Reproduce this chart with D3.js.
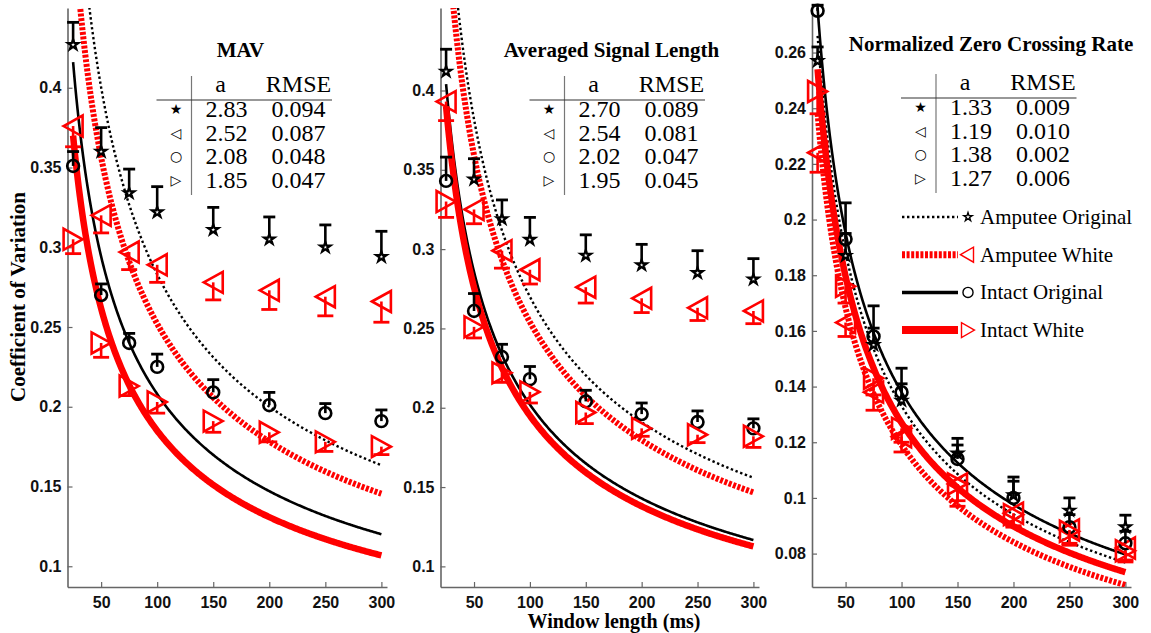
<!DOCTYPE html>
<html>
<head>
<meta charset="utf-8">
<script src="https://cdn.jsdelivr.net/npm/d3@7"></script>
<style>
body { margin: 0; background: #fff; }
</style>
</head>
<body>
<div id="chart"></div>
<script>
// ---- data ----
var windowLengths = [25, 50, 75, 100, 150, 200, 250, 300];
var xTicks = [50, 100, 150, 200, 250, 300];
var yTicksCoV = [0.1, 0.15, 0.2, 0.25, 0.3, 0.35, 0.4];
var yTicksZcr = [0.08, 0.1, 0.12, 0.14, 0.16, 0.18, 0.2, 0.22, 0.24, 0.26];
var seriesNames = ["Amputee Original", "Amputee White", "Intact Original", "Intact White"];
var panelTitles = ["MAV", "Averaged Signal Length", "Normalized Zero Crossing Rate"];

// fit parameter a and RMSE, order = seriesNames
var aMAV = [2.83, 2.52, 2.08, 1.85];
var rmseMAV = ["0.094", "0.087", "0.048", "0.047"];
var aASL = [2.70, 2.54, 2.02, 1.95];
var rmseASL = ["0.089", "0.081", "0.047", "0.045"];
var aZCR = [1.33, 1.19, 1.38, 1.27];
var rmseZCR = ["0.009", "0.010", "0.002", "0.006"];

// means and error bar ends (one list per series)
var mavMean = [
    [0.427, 0.360, 0.334, 0.322, 0.311, 0.305, 0.300, 0.294],
    [0.376, 0.320, 0.297, 0.289, 0.278, 0.273, 0.269, 0.266],
    [0.351, 0.270, 0.240, 0.225, 0.209, 0.201, 0.196, 0.191],
    [0.305, 0.240, 0.213, 0.203, 0.191, 0.184, 0.178, 0.175]];
var mavBar = [
    [0.441, 0.375, 0.349, 0.338, 0.325, 0.319, 0.314, 0.310],
    [0.363, 0.309, 0.286, 0.278, 0.267, 0.261, 0.257, 0.253],
    [0.360, 0.277, 0.246, 0.233, 0.217, 0.209, 0.202, 0.198],
    [0.296, 0.231, 0.207, 0.196, 0.184, 0.178, 0.172, 0.170]];
var aslMean = [
    [0.412, 0.344, 0.319, 0.306, 0.296, 0.290, 0.285, 0.281],
    [0.393, 0.325, 0.299, 0.287, 0.276, 0.269, 0.263, 0.261],
    [0.343, 0.261, 0.232, 0.218, 0.204, 0.196, 0.191, 0.187],
    [0.330, 0.251, 0.222, 0.210, 0.197, 0.187, 0.183, 0.182]];
var aslBar = [
    [0.426, 0.357, 0.331, 0.320, 0.309, 0.303, 0.299, 0.294],
    [0.381, 0.316, 0.288, 0.278, 0.266, 0.260, 0.255, 0.253],
    [0.358, 0.272, 0.240, 0.226, 0.211, 0.203, 0.198, 0.193],
    [0.320, 0.244, 0.216, 0.203, 0.190, 0.182, 0.178, 0.175]];
var zcrMean = [
    [0.257, 0.187, 0.155, 0.135, 0.116, 0.101, 0.0955, 0.0895],
    [0.224, 0.163, 0.138, 0.122, 0.105, 0.0945, 0.0885, 0.082],
    [0.275, 0.193, 0.158, 0.138, 0.114, 0.100, 0.0895, 0.0837],
    [0.246, 0.176, 0.143, 0.125, 0.105, 0.094, 0.088, 0.081]];
var zcrBar = [
    [0.262, 0.195, 0.161, 0.141, 0.119, 0.106, 0.100, 0.0938],
    [0.217, 0.158, 0.1315, 0.1165, 0.099, 0.0895, 0.0837, 0.0777],
    [0.277, 0.206, 0.169, 0.1466, 0.1214, 0.1075, 0.094, 0.088],
    [0.238, 0.170, 0.137, 0.120, 0.097, 0.090, 0.083, 0.077]];

// ---- layout / style ----
var width = 1151,
    height = 633,
    plotTop = 8,
    plotBottom = 587,
    axisColor = "#666",
    serif = "'Liberation Serif', 'Times New Roman', serif",
    sans = "'Liberation Sans', Arial, sans-serif";

var panels = [
    {left: 67.5, right: 387, yDom: [0.087, 0.45], yTicks: yTicksCoV, title: panelTitles[0], titleX: 173, titleY: 57,
        tableDy: 0, a: aMAV, rmse: rmseMAV, mean: mavMean, bar: mavBar},
    {left: 440.5, right: 759, yDom: [0.087, 0.452], yTicks: yTicksCoV, title: panelTitles[1], titleX: 171, titleY: 57,
        tableDy: 0, a: aASL, rmse: rmseASL, mean: aslMean, bar: aslBar},
    {left: 812, right: 1131, yDom: [0.068, 0.276], yTicks: yTicksZcr, title: panelTitles[2], titleX: 179, titleY: 51,
        tableDy: -2, a: aZCR, rmse: rmseZCR, mean: zcrMean, bar: zcrBar}
];

var seriesStyle = [
    {color: "#000", width: 2.4, dash: "2.4,2.6", legendWidth: 2.6, marker: "star", capW: 12, tableSym: "\u2605"},
    {color: "#f00", width: 6, dash: "3,1.6", legendWidth: 7, marker: "left", capW: 16, tableSym: "\u25C1"},
    {color: "#000", width: 2.6, dash: null, legendWidth: 3.5, marker: "circle", capW: 12, tableSym: "\u25CB"},
    {color: "#f00", width: 6.5, dash: null, legendWidth: 8, marker: "right", capW: 16, tableSym: "\u25B7"}
];

var markerPath = {
    star: d3.symbol().type(d3.symbolStar).size(34)(),
    circle: d3.symbol().type(d3.symbolCircle).size(110)(),
    left: "M-9.5,0L9.5,-10.5L9.5,10.5Z",
    right: "M9.5,0L-9.5,-10.5L-9.5,10.5Z"
};

var svg = d3.select("#chart").append("svg")
    .attr("width", width)
    .attr("height", height)
    .style("background", "#fff");

var fitGrid = d3.range(25, 300.5, 1);

panels.forEach(function(p, pi) {
    var x = d3.scaleLinear().domain([20, 305]).range([p.left, p.right]);
    var y = d3.scaleLinear().domain(p.yDom).range([plotBottom, plotTop]);
    var g = svg.append("g").attr("id", "panel-" + pi);

    svg.append("clipPath").attr("id", "clip-" + pi)
        .append("rect")
        .attr("x", p.left).attr("y", plotTop)
        .attr("width", p.right - p.left).attr("height", plotBottom - plotTop);

    // axes, MATLAB style ticks pointing inwards
    var xAxis = d3.axisBottom(x).tickValues(xTicks)
        .tickSizeInner(-5).tickSizeOuter(0).tickPadding(10);
    var yAxis = d3.axisLeft(y).tickValues(p.yTicks)
        .tickSizeInner(-5).tickSizeOuter(0).tickPadding(6)
        .tickFormat(d3.format(".2~f"));
    var gx = g.append("g").attr("transform", "translate(0," + plotBottom + ")").call(xAxis);
    var gy = g.append("g").attr("transform", "translate(" + p.left + ",0)").call(yAxis);
    [gx, gy].forEach(function(ax) {
        ax.select(".domain").attr("stroke", axisColor).attr("stroke-width", 1.6);
        ax.selectAll(".tick line").attr("stroke", axisColor).attr("stroke-width", 1.2);
        ax.selectAll(".tick text")
            .attr("fill", "#111")
            .style("font-family", sans)
            .style("font-weight", "bold")
            .style("font-size", "16px");
    });

    // fitted curves: CoV = a / sqrt(window), a from the table
    var curves = g.append("g").attr("clip-path", "url(#clip-" + pi + ")");
    p.a.forEach(function(a, si) {
        var st = seriesStyle[si];
        var line = d3.line()
            .x(function(w) { return x(w); })
            .y(function(w) { return y(a / Math.sqrt(w)); });
        curves.append("path")
            .attr("d", line(fitGrid))
            .attr("fill", "none")
            .attr("stroke", st.color)
            .attr("stroke-width", st.width)
            .attr("stroke-dasharray", st.dash);
    });

    // error bars and markers
    var pts = g.append("g");
    p.mean.forEach(function(vals, si) {
        var st = seriesStyle[si];
        vals.forEach(function(v, i) {
            var cx = x(windowLengths[i]), cy = y(v), ey = y(p.bar[si][i]);
            pts.append("line")
                .attr("x1", cx).attr("x2", cx).attr("y1", cy).attr("y2", ey)
                .attr("stroke", st.color).attr("stroke-width", 2.6);
            pts.append("line")
                .attr("x1", cx - st.capW / 2).attr("x2", cx + st.capW / 2)
                .attr("y1", ey).attr("y2", ey)
                .attr("stroke", st.color).attr("stroke-width", 2.8);
            pts.append("path")
                .attr("d", markerPath[st.marker])
                .attr("transform", "translate(" + cx + "," + cy + ")")
                .attr("fill", st.marker == "star" ? "#fff" : "none")
                .attr("stroke", st.color)
                .attr("stroke-width", st.marker == "star" ? 2.2 : 2.6);
        });
    });

    // title
    g.append("text")
        .attr("x", p.left + p.titleX)
        .attr("y", p.titleY)
        .attr("text-anchor", "middle")
        .style("font-family", serif)
        .style("font-weight", "bold")
        .style("font-size", "21px")
        .text(p.title);

    // parameter table
    var tb = g.append("g").attr("transform", "translate(" + p.left + "," + p.tableDy + ")");
    tb.append("line")
        .attr("x1", 124).attr("x2", 124).attr("y1", 76).attr("y2", 195)
        .attr("stroke", "#777").attr("stroke-width", 1.2);
    tb.append("line")
        .attr("x1", 89).attr("x2", 264.5).attr("y1", 100).attr("y2", 100)
        .attr("stroke", "#333").attr("stroke-width", 1.2);
    [["a", 153], ["RMSE", 231]].forEach(function(h) {
        tb.append("text")
            .attr("x", h[1]).attr("y", 92)
            .attr("text-anchor", "middle")
            .style("font-family", serif)
            .style("font-size", "24px")
            .text(h[0]);
    });
    p.a.forEach(function(a, si) {
        var ry = 117 + si * 23.7;
        tb.append("text")
            .attr("x", 108.5).attr("y", ry - 3)
            .attr("text-anchor", "middle")
            .attr("fill", "#000")
            .style("font-family", "'DejaVu Sans', sans-serif")
            .style("font-size", "14px")
            .text(seriesStyle[si].tableSym);
        tb.append("text")
            .attr("x", 159).attr("y", ry)
            .attr("text-anchor", "middle")
            .style("font-family", serif)
            .style("font-size", "24px")
            .text(a.toFixed(2));
        tb.append("text")
            .attr("x", 231).attr("y", ry)
            .attr("text-anchor", "middle")
            .style("font-family", serif)
            .style("font-size", "24px")
            .text(p.rmse[si]);
    });

    // legend lives in the last panel
    if (pi == 2) {
        var lg = g.append("g").attr("transform", "translate(" + p.left + ",0)");
        seriesNames.forEach(function(name, si) {
            var st = seriesStyle[si];
            var ly = 217 + si * 37.7;
            lg.append("line")
                .attr("x1", 90).attr("x2", 146).attr("y1", ly).attr("y2", ly)
                .attr("stroke", st.color)
                .attr("stroke-width", st.legendWidth)
                .attr("stroke-dasharray", st.dash);
            var mk = st.marker == "star" ? d3.symbol().type(d3.symbolStar).size(22)()
                : st.marker == "circle" ? d3.symbol().type(d3.symbolCircle).size(80)()
                : st.marker == "left" ? "M-6.5,0L6.5,-7.5L6.5,7.5Z" : "M6.5,0L-6.5,-7.5L-6.5,7.5Z";
            lg.append("path")
                .attr("d", mk)
                .attr("transform", "translate(" + (st.marker == "left" ? 155 : 156) + "," + ly + ")")
                .attr("fill", "none")
                .attr("stroke", st.color)
                .attr("stroke-width", 1.4);
            lg.append("text")
                .attr("x", 168).attr("y", ly + 7)
                .style("font-family", serif)
                .style("font-size", "21px")
                .text(name);
        });
    }
});

// shared axis labels
svg.append("text")
    .attr("transform", "translate(25,297) rotate(-90)")
    .attr("text-anchor", "middle")
    .style("font-family", serif)
    .style("font-weight", "bold")
    .style("font-size", "21px")
    .text("Coefficient of Variation");
svg.append("text")
    .attr("x", 614)
    .attr("y", 628)
    .attr("text-anchor", "middle")
    .style("font-family", serif)
    .style("font-weight", "bold")
    .style("font-size", "20px")
    .text("Window length (ms)");
</script>
</body>
</html>
